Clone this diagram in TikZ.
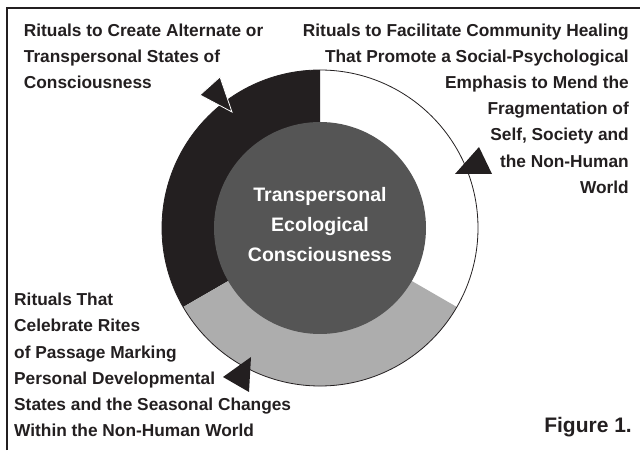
\documentclass[tikz,border=0pt]{standalone}
\usepackage{fontspec}
\setmainfont{Liberation Sans}
\definecolor{ink}{HTML}{231F20}
\definecolor{coregray}{HTML}{555555}
\definecolor{ringgray}{HTML}{ADADAD}
\begin{document}
\begin{tikzpicture}[x=1pt,y=1pt,
  ritext/.style={inner sep=0pt, font=\fontsize{17.3}{26.2}\selectfont\bfseries, text=ink},
  tri/.style={fill=ink}]
\useasboundingbox (0,0) rectangle (640,450);
\fill[white] (0,0) rectangle (640,450);
\draw[ink, line width=2pt] (7,0) -- (7,442) -- (640,442);
\coordinate (c) at (320,222);
\fill[ink] (c) -- ++(90:158) arc[start angle=90,end angle=210,radius=158] -- cycle;
\fill[ringgray] (c) -- ++(210:158) arc[start angle=210,end angle=330,radius=158] -- cycle;
\node[circle, draw=ink, line width=0.8pt, minimum size=316pt, inner sep=0pt] (ring) at (c) {};
\node[circle, fill=coregray, minimum size=212pt, inner sep=0pt] (core) at (c) {};
\node[text=white, align=center, font=\fontsize{19.5}{30}\selectfont\bfseries, inner sep=0pt] (coretext) at (320,225) {Transpersonal\\Ecological\\Consciousness};
\node[ritext, align=left, anchor=north west] (tl) at (23.7,426.6) {Rituals to Create Alternate or\\Transpersonal States of\\Consciousness};
\node[ritext, align=right, anchor=north east] (tr) at (629,426.6) {Rituals to Facilitate Community Healing\\That Promote a Social-Psychological\\Emphasis to Mend the\\Fragmentation of\\Self, Society and\\the Non-Human\\World};
\node[ritext, align=left, anchor=north west] (bl) at (14,157.1) {Rituals That\\Celebrate Rites\\of Passage Marking\\Personal Developmental\\States and the Seasonal Changes\\Within the Non-Human World};
\node[font=\fontsize{21}{25}\selectfont\bfseries, text=ink, anchor=base east, inner sep=0pt] (fig) at (632,17) {Figure 1.};
\filldraw[fill=ink, draw=white, line width=0.8pt] (220,373) -- (200,355) -- (232,338) -- cycle;
\fill[tri] (455,276) -- (479,303) -- (492,276) -- cycle;
\fill[tri] (223,73) -- (251,93) -- (249,58) -- cycle;
\end{tikzpicture}
\end{document}
